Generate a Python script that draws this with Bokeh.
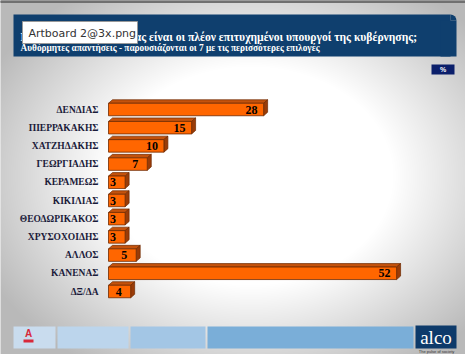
import numpy as np
from bokeh.plotting import figure
from bokeh.models import Range1d, ColumnDataSource
from bokeh.core.properties import value
from bokeh.embed import file_html
from bokeh.resources import INLINE

# ---- data ----
categories = ["ΔΕΝΔΙΑΣ", "ΠΙΕΡΡΑΚΑΚΗΣ", "ΧΑΤΖΗΔΑΚΗΣ", "ΓΕΩΡΓΙΑΔΗΣ", "ΚΕΡΑΜΕΩΣ",
              "ΚΙΚΙΛΙΑΣ", "ΘΕΟΔΩΡΙΚΑΚΟΣ", "ΧΡΥΣΟΧΟΙΔΗΣ", "ΑΛΛΟΣ", "ΚΑΝΕΝΑΣ", "ΔΞ/ΔΑ"]
values = [28, 15, 10, 7, 3, 3, 3, 3, 5, 52, 4]
title = "Ποιοι κατά τη γνώμη σας είναι οι πλέον επιτυχημένοι υπουργοί της κυβέρνησης;"
subtitle = "Αυθόρμητες απαντήσεις - παρουσιάζονται οι 7 με τις περισσότερες επιλογές"

SERIF = value("'Liberation Serif', 'Times New Roman', serif")
SANS = value("'Liberation Sans', Arial, sans-serif")

W, H = 465, 354
p = figure(width=W, height=H, x_range=Range1d(0, W), y_range=Range1d(H, 0),
           min_border=0, toolbar_location=None, output_backend="svg")
p.axis.visible = False
p.grid.visible = False
p.outline_line_color = None
p.background_fill_color = "#d8d8d8"
p.border_fill_color = "#d8d8d8"

# background radial gradient
yy, xx = np.mgrid[0:H, 0:W]
d = np.sqrt(((xx - 250) / 260.0) ** 2 + ((yy - 175) / 200.0) ** 2)
g = np.clip(255 - np.clip(d - 0.55, 0, None) * 120, 185, 255).astype(np.uint32)
img = (255 << 24) | (g << 16) | (g << 8) | g
p.image_rgba(image=[img.astype(np.uint32)], x=0, y=0, dw=W, dh=H)
p.quad(left=0, right=W, top=0, bottom=2, color="#707070")

# banner
p.quad(left=13, right=450, top=14, bottom=56, color="#0f3f6e", line_color=None)
p.quad(left=440, right=456, top=20, bottom=56, color="#0f3f6e", line_color=None)
p.wedge(x=450, y=20, radius=6, start_angle=0, end_angle=3.1416 / 2, direction="anticlock",
        color="#0f3f6e", line_color=None, radius_units="screen")
p.text(x=[20], y=[37], text=[title], text_font=SERIF, text_font_style="bold",
       text_font_size="11.6px", text_color="white", text_baseline="alphabetic")
p.text(x=[20], y=[47], text=[subtitle], text_font=SERIF, text_font_style="bold",
       text_font_size="9.3px", text_color="white", text_baseline="alphabetic")

# tooltip overlay
p.quad(left=22, right=137, top=21, bottom=43, fill_color="white", line_color="#999999")
p.text(x=[28], y=[32.5], text=["Artboard 2@3x.png"], text_font=value("'DejaVu Sans', sans-serif"),
       text_font_size="11px", text_color="#333333", text_baseline="middle")

# % box
p.quad(left=431, right=454, top=64, bottom=74, color="#0b1f6b", line_color=None)
p.text(x=[442.5], y=[69], text=["%"], text_font=SANS, text_font_style="bold",
       text_font_size="7px", text_color="white", text_align="center", text_baseline="middle")

# footer
for l, r, c in [(13, 55, "#c9dcee"), (57, 128, "#bcd5ec"), (130, 205, "#a3c6e5"), (207, 413, "#7aaed8")]:
    p.quad(left=l, right=r, top=326, bottom=348, color=c, line_color=None)
p.quad(left=415, right=456, top=325, bottom=348, color="#0d3a6a", line_color=None)
p.text(x=[435.5], y=[337], text=["alco"], text_font=SERIF,
       text_font_size="19px", text_color="white", text_align="center", text_baseline="middle")
p.text(x=[436], y=[351], text=["The pulse of society"], text_font=SANS,
       text_font_size="4px", text_color="#333333", text_align="center", text_baseline="middle")
p.quad(left=23, right=33, top=339, bottom=342, color="#d8283a", line_color=None)
p.text(x=[28], y=[333], text=["A"], text_font=SANS, text_font_style="bold",
       text_font_size="10px", text_color="#d8283a", text_align="center", text_baseline="middle")

# ---- bars in data ranges ----
px_per_val = 5.54
x0 = 108
p.extra_x_ranges = {"val": Range1d(-x0 / px_per_val, (W - x0) / px_per_val)}
row_px = 18.2
y0 = 109
p.extra_y_ranges = {"cat": Range1d(start=(H - y0) / row_px, end=-y0 / row_px)}

idx = np.arange(len(categories), dtype=float)
vals = np.array(values, dtype=float)
h = 12.5 / row_px
dx = 4.0 / px_per_val
dy = 3.5 / row_px
top_e = idx - h / 2
bot_e = idx + h / 2

top_xs = [[0, v, v + dx, dx] for v in vals]
top_ys = [[t, t, t - dy, t - dy] for t in top_e]
side_xs = [[v, v + dx, v + dx, v] for v in vals]
side_ys = [[t, t - dy, b - dy, b] for t, b in zip(top_e, bot_e)]

src = ColumnDataSource(dict(cat=categories, y=idx, v=vals, label=[str(v) for v in values]))

p.patches(xs=top_xs, ys=top_ys, fill_color="#c4520c", line_color="#6e2a00", line_width=0.7,
          x_range_name="val", y_range_name="cat")
p.patches(xs=side_xs, ys=side_ys, fill_color="#9a3c08", line_color="#6e2a00", line_width=0.7,
          x_range_name="val", y_range_name="cat")
p.hbar(y="y", left=0, right="v", height=h, source=src, fill_color="#ff6600",
       line_color="#6e2a00", line_width=0.8, x_range_name="val", y_range_name="cat")

p.text(x="v", y="y", text="label", source=src, x_offset=-12, text_align="center",
       text_baseline="middle", text_font=SERIF, text_font_style="bold",
       text_font_size="12px", text_color="black", x_range_name="val", y_range_name="cat")
p.text(x=0, y="y", text="cat", source=src, x_offset=-10, text_align="right",
       text_baseline="middle", text_font=SERIF, text_font_style="bold",
       text_font_size="9.5px", text_color="#1b1b3a", x_range_name="val", y_range_name="cat")

open("out.html", "w").write(file_html(p, INLINE))
